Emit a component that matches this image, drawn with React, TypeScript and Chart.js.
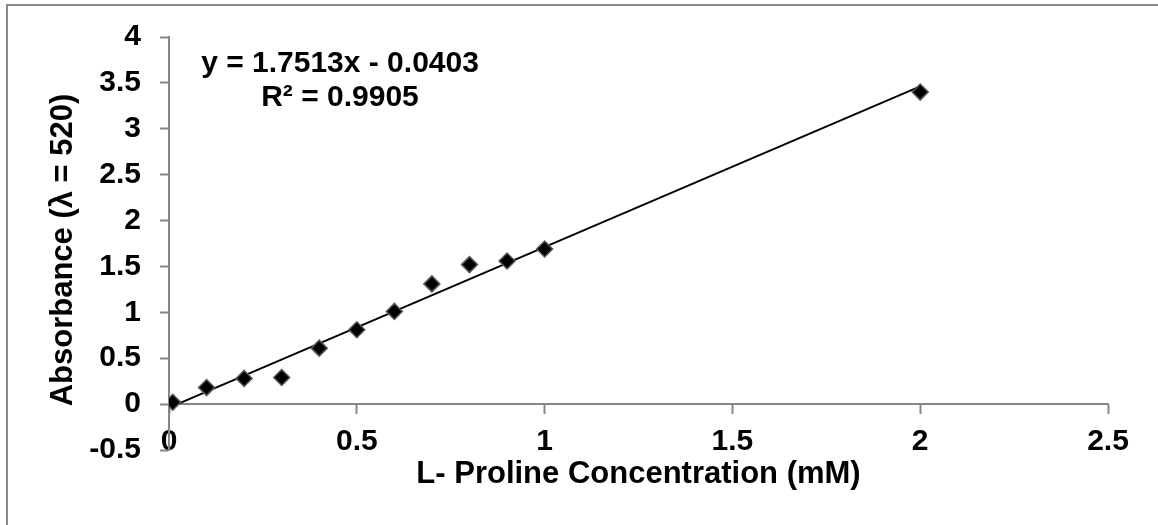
import React, { useEffect, useRef } from "react";
import { Chart, registerables } from "chart.js";

Chart.register(...registerables);

const concentrations = [0.01, 0.1, 0.2, 0.3, 0.4, 0.5, 0.6, 0.7, 0.8, 0.9, 1.0, 2.0];
const absorbances = [0.02, 0.18, 0.28, 0.29, 0.61, 0.81, 1.01, 1.31, 1.52, 1.56, 1.69, 3.4];
const slope = 1.7513;
const intercept = -0.0403;
const trendX = [0.01, 2.0];
const equationLines = ["y = 1.7513x - 0.0403", "R² = 0.9905"];
const xTitle = "L- Proline Concentration (mM)";
const yTitle = "Absorbance (λ = 520)";

const FONT = "'Liberation Sans', Arial, sans-serif";
const TICK_SIZE = 30;
const TITLE_SIZE = 31;
const EQ_SIZE = 30;
const AXIS_COLOR = "#868686";

const decor = {
  id: "decor",
  beforeDraw(chart: any) {
    const ctx = chart.ctx;
    ctx.save();
    ctx.fillStyle = "#ffffff";
    ctx.fillRect(0, 0, chart.width, chart.height);
    ctx.strokeStyle = "#8a8a8a";
    ctx.lineWidth = 2;
    ctx.strokeRect(7, 5, chart.width + 20, chart.height + 20);
    ctx.restore();
  },
  afterDraw(chart: any) {
    const ctx = chart.ctx;
    const area = chart.chartArea;
    ctx.save();
    ctx.fillStyle = "#000000";
    ctx.font = `bold ${TITLE_SIZE}px ${FONT}`;
    ctx.textAlign = "center";
    ctx.textBaseline = "middle";
    ctx.fillText(xTitle, (area.left + area.right) / 2, 474);
    ctx.save();
    ctx.translate(63, 250);
    ctx.rotate(-Math.PI / 2);
    ctx.fillText(yTitle, 0, 0);
    ctx.restore();
    ctx.font = `bold ${EQ_SIZE}px ${FONT}`;
    ctx.fillText(equationLines[0], 340, 64);
    ctx.fillText(equationLines[1], 340, 98);
    ctx.restore();
  },
};

export default function App() {
  const ref = useRef<HTMLCanvasElement>(null);
  useEffect(() => {
    const canvas = ref.current!;
    const chart = new Chart(canvas, {
      type: "scatter",
      data: {
        datasets: [
          {
            label: "Linear",
            type: "line",
            data: trendX.map((x) => ({ x, y: slope * x + intercept })),
            borderColor: "#000000",
            borderWidth: 2,
            pointRadius: 0,
            fill: false,
            order: 2,
          } as any,
          {
            label: "Absorbance",
            data: concentrations.map((x, i) => ({ x, y: absorbances[i] })),
            pointStyle: "rectRot",
            pointRadius: 8,
            backgroundColor: "#000000",
            borderColor: "#595959",
            borderWidth: 1.5,
            order: 1,
          },
        ],
      },
      options: {
        animation: false,
        responsive: false,
        devicePixelRatio: 1,
        layout: { padding: { left: 0, right: 50, top: 36, bottom: 75 } },
        plugins: { legend: { display: false }, tooltip: { enabled: false } },
        scales: {
          x: {
            type: "linear",
            position: { y: 0 } as any,
            min: 0,
            max: 2.5,
            afterFit: (s: any) => {
              s.height = 0;
            },
            ticks: {
              stepSize: 0.5,
              color: "#000000",
              padding: 11,
              font: { family: FONT, size: TICK_SIZE, weight: "bold" },
              callback: (v: any) => String(v),
            },
            grid: { drawOnChartArea: false, drawTicks: true, tickLength: 9, tickColor: AXIS_COLOR, tickWidth: 2 },
            border: { color: AXIS_COLOR, width: 2 },
          },
          y: {
            type: "linear",
            min: -0.5,
            max: 4,
            afterFit: (s: any) => {
              s.width = 169;
            },
            ticks: {
              stepSize: 0.5,
              color: "#000000",
              padding: 19,
              font: { family: FONT, size: TICK_SIZE, weight: "bold" },
              callback: (v: any) => String(v),
            },
            grid: { drawOnChartArea: false, drawTicks: true, tickLength: 9, tickColor: AXIS_COLOR, tickWidth: 2 },
            border: { color: AXIS_COLOR, width: 2 },
          },
        },
      },
      plugins: [decor],
    });
    return () => chart.destroy();
  }, []);
  return (
    <div style={{ position: "fixed", left: 0, top: 0, width: 1158, height: 525, background: "#fff" }}>
      <canvas ref={ref} width={1158} height={525} style={{ width: 1158, height: 525, display: "block" }} />
    </div>
  );
}
